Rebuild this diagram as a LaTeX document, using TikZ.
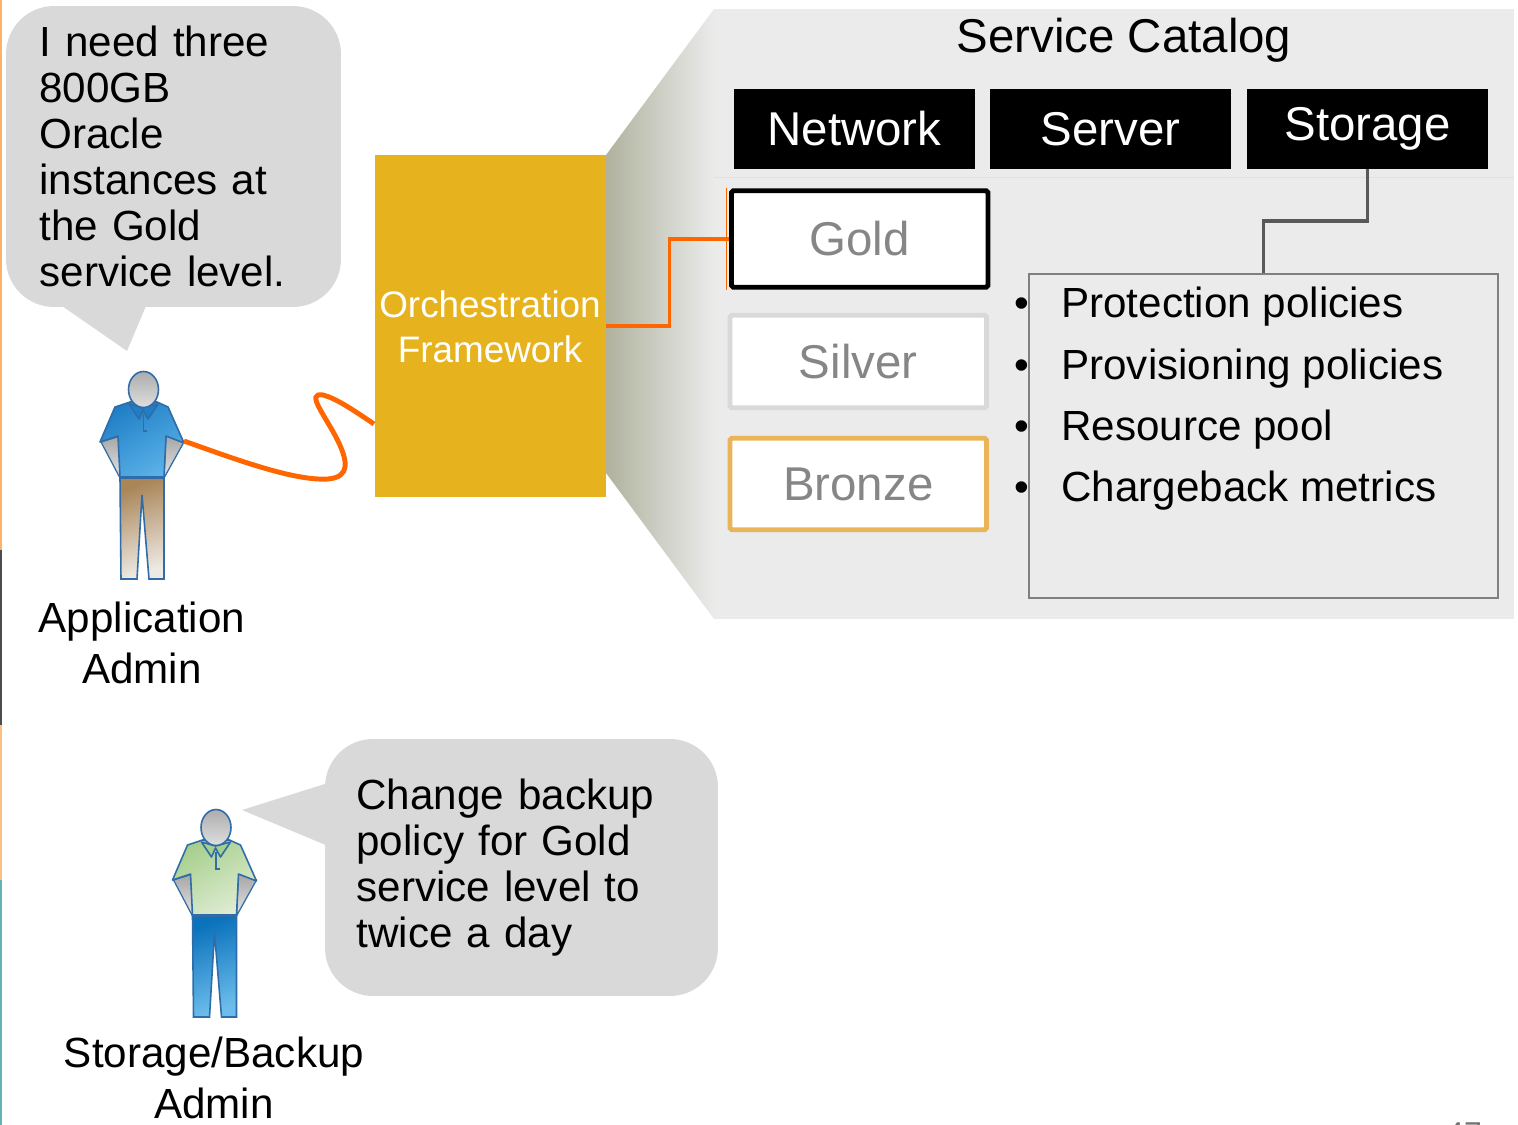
\documentclass[tikz,border=0pt]{standalone}
\usepackage{fontspec}
\setmainfont{Liberation Sans}
\usepackage{xcolor}
\usetikzlibrary{positioning}
\definecolor{bubblegrey}{HTML}{D9D9D9}
\definecolor{catalogbg}{HTML}{EBEBEB}
\definecolor{wedgeleft}{HTML}{B0B29E}
\definecolor{orchgold}{HTML}{E6B31E}
\definecolor{linkorange}{HTML}{FF6600}
\definecolor{tiertext}{HTML}{868686}
\definecolor{bronzeline}{HTML}{EAB458}
\definecolor{manline}{HTML}{2F6CA8}
\definecolor{appshirta}{HTML}{1F7FC6}
\definecolor{appshirtb}{HTML}{5CB2E8}
\definecolor{apptrousera}{HTML}{AA8558}
\definecolor{apptrouserb}{HTML}{EDEAE4}
\definecolor{stoshirta}{HTML}{A6CF8C}
\definecolor{stoshirtb}{HTML}{DFECD4}
\definecolor{stotrousera}{HTML}{0B72BC}
\definecolor{stotrouserb}{HTML}{6CBDEB}

\begin{document}
\begin{tikzpicture}[x=0.02cm,y=-0.02cm,
		bubble/.style={fill=bubblegrey, rounded corners=0.96cm, align=left, inner xsep=0pt, font=\fontsize{24}{26.1}\selectfont},
		tab/.style={fill=black, text=white, minimum width=4.82cm, minimum height=1.6cm, font=\fontsize{27}{30}\selectfont},
		tier/.style={fill=white, line width=2.8pt, rounded corners=1pt, minimum width=5.13cm, text=tiertext, font=\fontsize{27}{30}\selectfont},
		who/.style={align=center, font=\fontsize{24}{29.5}\selectfont},
		orangelink/.style={color=linkorange, line width=2pt},
		pics/person/.style n args={4}{code={
			\draw[manline, line width=0.7pt, top color=gray!70, bottom color=gray!20] (101,442) -- (120,478) -- (120,436) -- cycle;
			\draw[manline, line width=0.7pt, top color=gray!70, bottom color=gray!20] (184,442) -- (164,478) -- (166,436) -- cycle;
			\draw[manline, line width=0.9pt, top color=#3, bottom color=#4, shading angle=20] (120,478) -- (164,478) -- (164,579) -- (149,579) -- (142,495) -- (137,579) -- (121,579) -- cycle;
			\draw[manline, line width=0.9pt, line join=round, top color=#1, bottom color=#2, shading angle=30] (130,402) -- (115,407) -- (100,442) -- (118,436) -- (120,477) -- (164,477) -- (166,436) -- (184,443) -- (168,407) -- (157,402) -- cycle;
			\draw[manline, line width=0.9pt, line join=round, top color=#1, bottom color=#1] (129,404) -- (139,419) -- (143,410) -- (148,419) -- (158,404) -- (143,408) -- cycle;
			\draw[manline, line width=0.8pt] (143.5,414) -- (143.5,431) -- (147,431);
			\draw[manline, line width=0.9pt, top color=gray!65, bottom color=gray!25] (143.5,389.5) ellipse (15 and 18);
		}}]
	\useasboundingbox (0,0) rectangle (1518,1125);

	\fill[color=orange!60] (0,0) rectangle (2,550);
	\fill[color=black!70] (0,550) rectangle (2,725);
	\fill[color=orange!50] (0,725) rectangle (2,880);
	\fill[color=teal!60] (0,880) rectangle (2,1125);

	\fill[catalogbg] (714,9) rectangle (1514,619);
	\shade[left color=wedgeleft, middle color=black!14, right color=catalogbg] (606,155) -- (714,9) -- (714,619) -- (606,473) -- cycle;
	\draw[color=black!12, line width=0.6pt] (714,177.5) -- (1514,177.5);

	\node[bubble, minimum width=6.7cm, minimum height=6.02cm, text width=5.36cm, inner xsep=0.67cm] (needbubble) at (173.5,156.5) {I need three\\800GB\\Oracle\\instances at\\the Gold\\service level.};
	\fill[bubblegrey] (62,306) -- (127,351) -- (146,306) -- cycle;
	\node[bubble, minimum width=7.86cm, minimum height=5.14cm, text width=6.6cm, inner xsep=0.63cm] (changebubble) at (521.5,867.5) {Change backup\\policy for Gold\\service level to\\twice a day};
	\fill[bubblegrey] (328,783) -- (242,810) -- (328,846) -- cycle;

	\pic (appadmin) at (0,0) {person={appshirta}{appshirtb}{apptrousera}{apptrouserb}};
	\pic (stoadmin) at (72.5,438) {person={stoshirta}{stoshirtb}{stotrousera}{stotrouserb}};
	\node[who] (applabel) at (142,643) {Application\\Admin};
	\node[who] (stolabel) at (214,1078) {Storage/Backup\\Admin};

	\node[fill=orchgold, minimum width=4.62cm, minimum height=6.84cm, inner sep=0pt] (orch) at (490.5,326) {};
	\node[align=center, text=white, font=\fontsize{21}{25.5}\selectfont] (orchlabel) at (490,327) {Orchestration\\Framework};

	\node[font=\fontsize{27}{30}\selectfont] (cataloglabel) at (1124,40) {Service Catalog};
	\node[tab] (network) at (854.5,129) {Network};
	\node[tab] (server) at (1110.5,129) {Server};
	\node[tab] (storage) at (1367.5,129) {Storage};

	\node[tier, draw=black, minimum height=1.93cm] (gold) at (859.75,239) {Gold};
	\node[tier, draw=bubblegrey, minimum height=1.85cm] (silver) at (858.25,361.5) {Silver};
	\node[tier, draw=bronzeline, minimum height=1.83cm] (bronze) at (858.25,484) {Bronze};

	\node[draw=black!50, line width=1.1pt, minimum width=9.38cm, minimum height=6.48cm] (policy) at (1263.5,436) {};
	\node[anchor=north west, align=left, inner sep=0pt, font=\fontsize{24}{34.9}\selectfont] (policylist) at (1014,287) {\makebox[0.94cm][l]{•}Protection policies\\\makebox[0.94cm][l]{•}Provisioning policies\\\makebox[0.94cm][l]{•}Resource pool\\\makebox[0.94cm][l]{•}Chargeback metrics};

	\coordinate (bend) at (1316,221);
	\draw[color=black!65, line width=2pt] (storage.south) |- (bend) -| (policy.north);

	\draw[orangelink] (orch.east) -- ++(63,0) |- (gold.west);
	\draw[color=linkorange, line width=0.8pt] ([xshift=-1.5pt]gold.north west) -- ([xshift=-1.5pt]gold.south west);

	\coordinate (apphand) at (184,441);
	\coordinate (orchside) at (374,424);
	\draw[orangelink, line width=2.8pt] (apphand) .. controls (240,461) and (295,481) .. (328,479) .. controls (350,477) and (348,462) .. (338,441) .. controls (325,415) and (305,392) .. (323,395) .. controls (335,398) and (352,409) .. (orchside);

	\node[anchor=north, text=black!55, font=\fontsize{18}{20}\selectfont] (pagenum) at (1464,1117) {47};
\end{tikzpicture}
\end{document}
